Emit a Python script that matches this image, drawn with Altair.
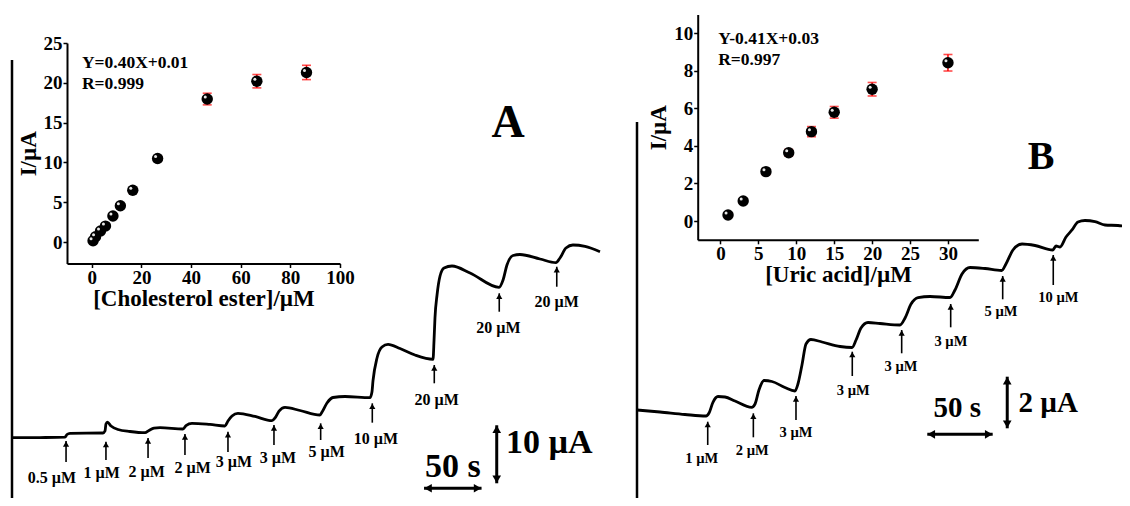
import altair as alt
import pandas as pd

FONT = "Liberation Serif"

# ---------------- Panel A : amperometric trace (time / s, current / µA) ----------------
traceA_t = [0, 24.3, 46.1, 47.8, 50.4, 79.1, 80.9, 81.7, 83.0, 86.1, 92.2, 102.6, 115.7, 119.1,
            123.5, 128.7, 148.7, 151.3, 156.5, 172.2, 185.2, 187.8, 191.3, 196.5, 211.3, 226.1,
            228.7, 232.2, 237.4, 250.4, 267.8, 269.6, 273.9, 279.1, 289.6, 311.3, 313.0, 313.9,
            317.4, 321.7, 327.0, 337.4, 350.4, 366.1, 367.0, 367.8, 369.6, 372.2, 375.7, 382.6,
            398.3, 423.5, 427.0, 430.4, 435.7, 441.7, 459.1, 473.0, 476.5, 481.7, 487.8, 498.3, 511.3]
traceA_I = [0, 0.03, 0.09, 0.55, 0.76, 0.81, 1.16, 2.36, 2.66, 2.02, 1.41, 1.07, 0.86, 1.24,
            1.64, 1.72, 1.5, 2.1, 2.48, 2.28, 2.02, 2.88, 3.74, 4.21, 3.66, 2.93,
            3.40, 4.60, 5.24, 4.69, 3.91, 4.43, 5.98, 6.93, 7.10, 6.90, 7.88, 9.78,
            13.74, 15.64, 16.10, 15.38, 14.26, 13.52, 16.84, 20.64, 24.6, 27.88, 29.26, 29.60,
            28.40, 25.93, 27.19, 29.78, 31.41, 31.59, 30.81, 30.17, 30.98, 32.71, 33.22, 32.97, 32.07]

injA_t = [47.0, 81.7, 118.3, 150.4, 187.8, 227.8, 268.4, 313.3, 367.2, 423.7, 473.7]
injA_tip = [-0.57, -0.69, -0.05, 0.64, 1.03, 2.19, 2.48, 5.93, 12.53, 24.9, 29.48]
injA_tail = [-4.19, -3.84, -3.5, -2.98, -2.47, -1.26, -0.40, 2.59, 9.38, 21.72, 26.03]
injA_text = ["0.5 \u00b5M", "1 \u00b5M", "2 \u00b5M", "2 \u00b5M", "3 \u00b5M", "3 \u00b5M",
             "5 \u00b5M", "10 \u00b5M", "20 \u00b5M", "20 \u00b5M", "20 \u00b5M"]
injA_label_t = [34.8, 78.0, 117.1, 157.2, 193.0, 231.3, 273.7, 316.5, 369.3, 422.9, 473.7]
injA_label_I = [-6.95, -6.09, -5.86, -5.28, -4.14, -3.5, -2.47, -0.28, 6.5, 18.86, 23.45]

barA_t = [358.3, 408.3]      # 50 s
barA_I = -8.72
barA_vt = 421.5
barA_vI = [-7.86, 2.14]      # 10 µA
barA_text = ["50 s", "10 \u00b5A"]
barA_text_t = [383.3, 429.5]
barA_text_I = [-5.0, -0.97]
letterA = ("A", 431.3, 54.26)
axisA_I = [65.1, -12.0]

# ---------------- Panel A inset : calibration ----------------
insA_x = [0.5, 1.5, 3.5, 5.5, 8.5, 11.5, 16.5, 26.5, 46.5, 66.5, 86.5]
insA_y = [0.16, 0.67, 1.38, 2.0, 3.27, 4.56, 6.5, 10.5, 17.96, 20.2, 21.3]
insA_err = [0.15, 0.2, 0.2, 0.25, 0.25, 0.25, 0.3, 0.3, 0.73, 0.84, 0.9]
insA_eq = ["Y=0.40X+0.01", "R=0.999"]
insA_eq_x = [-4, -4]
insA_eq_y = [22.5, 19.85]

# ---------------- Panel B : amperometric trace ----------------
traceB_t = [0, 17.7, 36.9, 53.1, 55.4, 58.5, 62.3, 67.7, 75.4, 88.2, 90.8, 93.8, 97.7, 103.8,
            113.8, 121.5, 123.8, 126.9, 130, 133.8, 142.3, 156.2, 165.4, 168.5, 172.3, 177.7,
            186.9, 202.3, 206.2, 210.8, 216.2, 225.4, 240.8, 244.6, 250, 256.2, 267.7, 280.5,
            283.8, 289.2, 296.2, 306.2, 319.8, 322.3, 325.4, 330, 334.6, 339.2, 344.6, 352.3,
            360, 370, 379.2]
traceB_I = [0, -0.078, -0.174, -0.233, -0.116, 0.31, 0.523, 0.504, 0.349, 0.105, 0.233, 0.775,
            1.143, 1.105, 0.872, 0.736, 1.008, 1.744, 2.558, 2.733, 2.636, 2.461, 2.422, 2.713,
            3.178, 3.391, 3.353, 3.295, 3.566, 4.109, 4.36, 4.4, 4.36, 4.651, 5.271, 5.523,
            5.484, 5.407, 5.659, 6.202, 6.434, 6.376, 6.202, 6.357, 6.318, 6.705, 6.977, 7.287,
            7.345, 7.306, 7.171, 7.151, 7.093]

injB_t = [54.4, 89.5, 122.3, 165.6, 203.6, 241.3, 281.3, 320.2]
injB_tip = [-0.453, -0.128, 0.543, 2.26, 3.101, 4.109, 5.194, 6.008]
injB_tail = [-1.357, -1.058, -0.388, 1.318, 2.198, 3.205, 4.291, 4.845]
injB_text = ["1 \u00b5M", "2 \u00b5M", "3 \u00b5M", "3 \u00b5M", "3 \u00b5M", "3 \u00b5M",
             "5 \u00b5M", "10 \u00b5M"]
injB_label_t = [49.8, 88.7, 122.3, 166.4, 203.1, 241.5, 280.0, 324.1]
injB_label_I = [-1.911, -1.578, -0.903, 0.748, 1.678, 2.647, 3.81, 4.329]

barB_t = [223.3, 273.6]      # 50 s
barB_I = -0.942
barB_vt = 284.8
barB_vI = [-0.709, 1.291]    # 2 µA
barB_text = ["50 s", "2 \u00b5A"]
barB_text_t = [246.4, 293.5]
barB_text_I = [0.066, 0.26]
letterB = ("B", 310.8, 9.81)
axisB_I = [11.16, -4.5]

# ---------------- Panel B inset ----------------
insB_x = [1, 3, 6, 9, 12, 15, 20, 30]
insB_y = [0.32, 1.07, 2.63, 3.64, 4.76, 5.79, 7.02, 8.43]
insB_err = [0.12, 0.12, 0.15, 0.17, 0.27, 0.31, 0.36, 0.44]
insB_eq = ["Y-0.41X+0.03", "R=0.997"]
insB_eq_x = [-0.3, -0.3]
insB_eq_y = [9.7, 8.58]


def trace_panel(tr_t, tr_I, inj_t, tip, tail, lab_t, lab_I, lab_txt, bar_t, bar_I, vbar_t,
                vbar_I, btxt, btxt_t, btxt_I, letter, axis_I, X, Y, lab_size, bar_size,
                letter_size):
    def enc(c, xf="t", yf="I"):
        return c.encode(x=alt.X(f"{xf}:Q", scale=X, axis=None),
                        y=alt.Y(f"{yf}:Q", scale=Y, axis=None))

    df_tr = pd.DataFrame({"t": tr_t, "I": tr_I})
    line = enc(alt.Chart(df_tr).mark_line(color="black", strokeWidth=2.8,
                                          interpolate="monotone"))

    df_ax = pd.DataFrame({"t": [0], "I": [axis_I[0]], "I2": [axis_I[1]]})
    vline = enc(alt.Chart(df_ax).mark_rule(color="black", strokeWidth=2.5)).encode(y2="I2:Q")

    df_inj = pd.DataFrame({"t": inj_t, "tip": tip, "tail": tail})
    shaft = enc(alt.Chart(df_inj).mark_rule(color="black", strokeWidth=1.6),
                yf="tip").encode(y2="tail:Q")
    head = enc(alt.Chart(df_inj).mark_point(shape="triangle-up", filled=True, size=38,
                                            color="black", opacity=1, yOffset=3),
               yf="tip")

    df_lab = pd.DataFrame({"t": lab_t, "I": lab_I, "txt": lab_txt})
    labels = enc(alt.Chart(df_lab).mark_text(font=FONT, fontWeight="bold", fontSize=lab_size,
                                             color="black", baseline="middle")).encode(text="txt:N")

    df_h = pd.DataFrame({"t": [bar_t[0]], "t2": [bar_t[1]], "I": [bar_I]})
    hbar = enc(alt.Chart(df_h).mark_rule(color="black", strokeWidth=3)).encode(x2="t2:Q")
    hl = enc(alt.Chart(pd.DataFrame({"t": [bar_t[0]], "I": [bar_I]})).mark_point(
        shape="triangle-left", filled=True, size=75, color="black", opacity=1, xOffset=4))
    hr = enc(alt.Chart(pd.DataFrame({"t": [bar_t[1]], "I": [bar_I]})).mark_point(
        shape="triangle-right", filled=True, size=75, color="black", opacity=1, xOffset=-4))

    df_v = pd.DataFrame({"t": [vbar_t], "I": [vbar_I[0]], "I2": [vbar_I[1]]})
    vbar = enc(alt.Chart(df_v).mark_rule(color="black", strokeWidth=3)).encode(y2="I2:Q")
    vt = enc(alt.Chart(pd.DataFrame({"t": [vbar_t], "I": [vbar_I[1]]})).mark_point(
        shape="triangle-up", filled=True, size=75, color="black", opacity=1, yOffset=4))
    vb = enc(alt.Chart(pd.DataFrame({"t": [vbar_t], "I": [vbar_I[0]]})).mark_point(
        shape="triangle-down", filled=True, size=75, color="black", opacity=1, yOffset=-4))

    t1 = enc(alt.Chart(pd.DataFrame({"t": [btxt_t[0]], "I": [btxt_I[0]], "txt": [btxt[0]]}))
             .mark_text(font=FONT, fontWeight="bold", fontSize=bar_size, color="black",
                        align="center", baseline="middle")).encode(text="txt:N")
    t2 = enc(alt.Chart(pd.DataFrame({"t": [btxt_t[1]], "I": [btxt_I[1]], "txt": [btxt[1]]}))
             .mark_text(font=FONT, fontWeight="bold", fontSize=bar_size, color="black",
                        align="left", baseline="middle")).encode(text="txt:N")

    lt = enc(alt.Chart(pd.DataFrame({"t": [letter[1]], "I": [letter[2]], "txt": [letter[0]]}))
             .mark_text(font=FONT, fontWeight="bold", fontSize=letter_size, color="black",
                        align="center", baseline="middle")).encode(text="txt:N")

    return alt.layer(vline, line, shaft, head, labels, hbar, hl, hr, vbar, vt, vb, t1, t2, lt)


def inset_panel(xs, ys, err, eq, eq_x, eq_y, X, Y, xvals, yvals, xtitle, ytitle, xoff, yoff):
    common = dict(labelFont=FONT, labelFontSize=19, labelFontWeight="bold", labelColor="black",
                  titleFont=FONT, titleFontSize=23, titleFontWeight="bold", titleColor="black",
                  domainColor="black", domainWidth=2, tickColor="black", tickWidth=1.5,
                  tickSize=4, grid=False, labelOverlap=False, labelFlush=False)
    ax_x = alt.Axis(orient="bottom", offset=xoff, values=xvals, title=xtitle, labelPadding=1,
                    titlePadding=0, **common)
    ax_y = alt.Axis(orient="left", offset=yoff, values=yvals, title=ytitle, labelPadding=1,
                    titlePadding=3, **common)

    def enc(c, xf="x", yf="y"):
        return c.encode(x=alt.X(f"{xf}:Q", scale=X, axis=ax_x),
                        y=alt.Y(f"{yf}:Q", scale=Y, axis=ax_y))

    df = pd.DataFrame({"x": xs, "y": ys, "e": err})
    base = alt.Chart(df).transform_calculate(lo="datum.y - datum.e", hi="datum.y + datum.e")
    bar = enc(base.mark_rule(color="red", strokeWidth=1.5), yf="lo").encode(y2="hi:Q")
    cap1 = enc(base.mark_tick(color="red", orient="horizontal", size=9, thickness=1.6), yf="lo")
    cap2 = enc(base.mark_tick(color="red", orient="horizontal", size=9, thickness=1.6), yf="hi")
    ball = enc(base.mark_circle(color="black", size=130, opacity=1))
    shine = enc(base.mark_circle(color="white", size=9, opacity=0.9, xOffset=-2, yOffset=-2))

    df_eq = pd.DataFrame({"x": eq_x, "y": eq_y, "txt": eq})
    eqt = enc(alt.Chart(df_eq).mark_text(font=FONT, fontWeight="bold", fontSize=17.5,
                                         color="black", align="left",
                                         baseline="middle")).encode(text="txt:N")
    return alt.layer(bar, cap1, cap2, ball, shine, eqt)


H = 490
XA = alt.Scale(domain=[0, 530], range=[4, 613.5], nice=False, zero=False)
YA = alt.Scale(domain=[-10, 70], range=[487.7, 23.7], nice=False, zero=False)
XB = alt.Scale(domain=[0, 380], range=[629, 1123], nice=False, zero=False)
YB = alt.Scale(domain=[-4, 12], range=[505.2, 92.4], nice=False, zero=False)
XiA = alt.Scale(domain=[-10, 100], range=[59, 332], nice=False, zero=False)
YiA = alt.Scale(domain=[-2.7, 25], range=[255.5, 35], nice=False, zero=False)
XiB = alt.Scale(domain=[-3, 34], range=[689.7, 970.3], nice=False, zero=False)
YiB = alt.Scale(domain=[-1, 11], range=[231.8, 6.5], nice=False, zero=False)

panelA = trace_panel(traceA_t, traceA_I, injA_t, injA_tip, injA_tail, injA_label_t,
                     injA_label_I, injA_text, barA_t, barA_I, barA_vt, barA_vI, barA_text,
                     barA_text_t, barA_text_I, letterA, axisA_I, XA, YA, 16, 34, 46)
panelB = trace_panel(traceB_t, traceB_I, injB_t, injB_tip, injB_tail, injB_label_t,
                     injB_label_I, injB_text, barB_t, barB_I, barB_vt, barB_vI, barB_text,
                     barB_text_t, barB_text_I, letterB, axisB_I, XB, YB, 14.5, 29, 40)
insetA = inset_panel(insA_x, insA_y, insA_err, insA_eq, insA_eq_x, insA_eq_y, XiA, YiA,
                     [0, 20, 40, 60, 80, 100], [0, 5, 10, 15, 20, 25],
                     "[Cholesterol ester]/\u00b5M", "I/\u00b5A", -(H - 255.5), -59)
insetB = inset_panel(insB_x, insB_y, insB_err, insB_eq, insB_eq_x, insB_eq_y, XiB, YiB,
                     [0, 5, 10, 15, 20, 25, 30], [0, 2, 4, 6, 8, 10],
                     "[Uric acid]/\u00b5M", "I/\u00b5A", -(H - 231.8), -689.7)

chart = alt.layer(panelA, insetA, panelB, insetB).resolve_scale(
    x="independent", y="independent"
).properties(
    width=1114, height=H, autosize="none", padding=0
).configure_view(stroke=None)

chart.save("out.html", embed_options={"renderer": "svg", "actions": False})
